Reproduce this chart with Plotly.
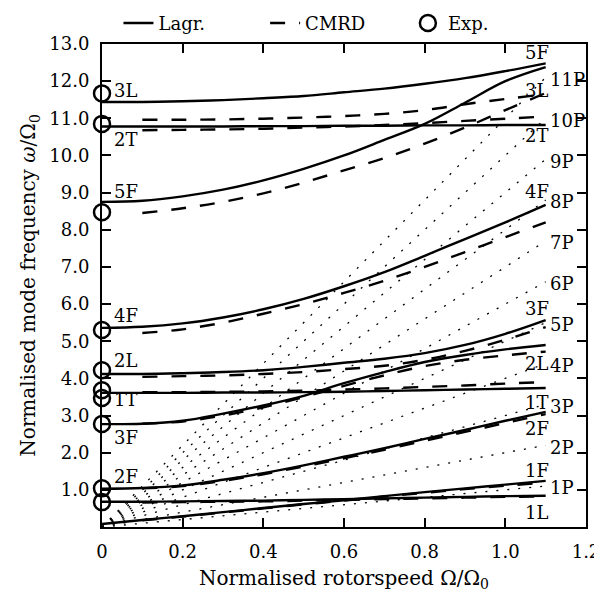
import plotly.graph_objects as go

# ---------------- data ----------------
x_lagr = [0.0, 0.1, 0.2, 0.3, 0.4, 0.5, 0.6, 0.7, 0.8, 0.9, 1.0, 1.1]
x_cmrd = [0.1, 0.2, 0.3, 0.4, 0.5, 0.6, 0.7, 0.8, 0.9, 1.0, 1.1]

lagr_3L = [11.44, 11.44, 11.46, 11.49, 11.54, 11.60, 11.70, 11.80, 11.93, 12.08, 12.27, 12.48]
lagr_2T = [10.78, 10.78, 10.78, 10.78, 10.79, 10.79, 10.80, 10.80, 10.81, 10.81, 10.82, 10.82]
lagr_5F = [8.75, 8.78, 8.90, 9.08, 9.33, 9.64, 10.00, 10.42, 10.85, 11.42, 12.00, 12.38]
lagr_4F = [5.36, 5.39, 5.48, 5.64, 5.86, 6.14, 6.48, 6.86, 7.30, 7.75, 8.20, 8.67]
lagr_2L = [4.12, 4.12, 4.14, 4.17, 4.22, 4.31, 4.42, 4.53, 4.68, 4.90, 5.20, 5.57]
lagr_1T = [3.61, 3.61, 3.61, 3.62, 3.62, 3.63, 3.64, 3.66, 3.68, 3.70, 3.72, 3.74]
lagr_3F = [2.77, 2.78, 2.86, 3.05, 3.27, 3.53, 3.87, 4.17, 4.44, 4.63, 4.78, 4.90]
lagr_2F = [1.03, 1.05, 1.12, 1.27, 1.45, 1.66, 1.89, 2.12, 2.37, 2.61, 2.86, 3.10]
lagr_1L = [0.68, 0.68, 0.69, 0.70, 0.71, 0.73, 0.75, 0.77, 0.79, 0.81, 0.83, 0.84]
lagr_1F = [0.08, 0.19, 0.29, 0.40, 0.51, 0.62, 0.72, 0.83, 0.94, 1.04, 1.14, 1.24]

cmrd_3L = [10.96, 10.96, 10.97, 10.99, 11.02, 11.06, 11.12, 11.22, 11.38, 11.52, 11.65]
cmrd_2T = [10.68, 10.69, 10.70, 10.72, 10.75, 10.78, 10.82, 10.87, 10.93, 10.99, 11.05]
cmrd_5F = [8.45, 8.58, 8.75, 8.98, 9.27, 9.60, 9.93, 10.32, 10.75, 11.22, 11.68]
cmrd_4F = [5.22, 5.32, 5.50, 5.74, 6.00, 6.30, 6.63, 7.00, 7.40, 7.80, 8.20]
cmrd_2L = [4.04, 4.06, 4.08, 4.12, 4.17, 4.25, 4.34, 4.50, 4.74, 5.04, 5.38]
cmrd_1T = [3.63, 3.63, 3.64, 3.65, 3.67, 3.70, 3.73, 3.77, 3.81, 3.86, 3.90]
cmrd_3F = [2.78, 2.84, 3.00, 3.22, 3.50, 3.80, 4.08, 4.33, 4.50, 4.62, 4.72]
cmrd_2F = [1.04, 1.10, 1.24, 1.42, 1.63, 1.85, 2.08, 2.32, 2.56, 2.80, 3.04]
cmrd_1L = [0.66, 0.67, 0.68, 0.69, 0.71, 0.73, 0.75, 0.77, 0.79, 0.81, 0.82]
cmrd_1F = [0.18, 0.28, 0.39, 0.50, 0.61, 0.71, 0.82, 0.92, 1.02, 1.11, 1.20]

exp_x = [0, 0, 0, 0, 0, 0, 0, 0, 0, 0]
exp_y = [11.67, 10.85, 8.47, 5.30, 4.22, 3.68, 3.47, 2.77, 1.04, 0.67]

harmonics = [1, 2, 3, 4, 5, 6, 7, 8, 9, 10, 11]
harm_x = [0.0, 1.1]

left_labels = ["3L", "2T", "5F", "4F", "2L", "1T", "3F", "2F"]
left_label_y = [11.76, 10.42, 9.02, 5.68, 4.47, 3.42, 2.40, 1.35]
right_labels = ["5F", "3L", "2T", "4F", "3F", "2L", "1T", "2F", "1F", "1L"]
right_label_y = [12.76, 11.76, 10.55, 9.02, 5.89, 4.41, 3.36, 2.66, 1.53, 0.38]

x_ticks = [0.0, 0.2, 0.4, 0.6, 0.8, 1.0, 1.2]
x_ticktext = ["0", "0.2", "0.4", "0.6", "0.8", "1.0", "1.2"]
y_ticks = [1, 2, 3, 4, 5, 6, 7, 8, 9, 10, 11, 12, 13]
y_ticktext = ["1.0", "2.0", "3.0", "4.0", "5.0", "6.0", "7.0", "8.0", "9.0", "10.0", "11.0", "12.0", "13.0"]

# ---------------- figure ----------------
FONT = "DejaVu Serif"
fig = go.Figure()

# harmonic (kP) dotted lines
for k in harmonics:
    fig.add_trace(go.Scatter(
        x=harm_x, y=[k * v for v in harm_x], mode="lines",
        line=dict(color="black", width=1.3, dash="2px,9px"),
        showlegend=False, hoverinfo="skip"))

lagr = [lagr_3L, lagr_2T, lagr_5F, lagr_4F, lagr_2L, lagr_1T, lagr_3F, lagr_2F, lagr_1L, lagr_1F]
cmrd = [cmrd_3L, cmrd_2T, cmrd_5F, cmrd_4F, cmrd_2L, cmrd_1T, cmrd_3F, cmrd_2F, cmrd_1L, cmrd_1F]

for i, ys in enumerate(lagr):
    fig.add_trace(go.Scatter(
        x=x_lagr, y=ys, mode="lines", line=dict(color="black", width=2.4, shape="spline"),
        name="Lagr.", legend="legend", showlegend=(i == 0), legendgroup="lagr"))
for i, ys in enumerate(cmrd):
    fig.add_trace(go.Scatter(
        x=x_cmrd, y=ys, mode="lines",
        line=dict(color="black", width=2.4, shape="spline", dash="15px,14px"),
        name="CMRD", legend="legend2", showlegend=(i == 0), legendgroup="cmrd"))

fig.add_trace(go.Scatter(
    x=exp_x, y=exp_y, mode="markers", cliponaxis=False,
    marker=dict(symbol="circle-open", size=16, color="black", line=dict(width=2.5, color="black")),
    name="Exp.", legend="legend3"))

LBL = 18
annotations = []
for t, yv in zip(left_labels, left_label_y):
    annotations.append(dict(x=0.025, y=yv, text=t, showarrow=False, xanchor="left", yanchor="middle",
                            font=dict(family=FONT, size=LBL, color="black")))
for t, yv in zip(right_labels, right_label_y):
    annotations.append(dict(x=1.044, y=yv, text=t, showarrow=False, xanchor="left", yanchor="middle",
                            font=dict(family=FONT, size=LBL, color="black")))
for k in harmonics:
    annotations.append(dict(x=1.105, y=1.1 * k - 0.05, text=f"{k}P", showarrow=False,
                            xanchor="left", yanchor="middle",
                            font=dict(family=FONT, size=LBL, color="black")))

legend_common = dict(orientation="h", yanchor="middle", y=1.043, xanchor="left",
                     bgcolor="rgba(0,0,0,0)", font=dict(family=FONT, size=18, color="black"))

# page body has an 8px default margin, so the figure is sized to fill the 602x592 window
fig.update_layout(
    width=594, height=584,
    margin=dict(l=94, r=16, t=36, b=65, autoexpand=False),
    plot_bgcolor="white", paper_bgcolor="white",
    font=dict(family=FONT, size=18, color="black"),
    annotations=annotations,
    legend=dict(x=0.034, **legend_common),
    legend2=dict(x=0.337, **legend_common),
    legend3=dict(x=0.632, **legend_common),
    xaxis=dict(range=[0, 1.2], tickvals=x_ticks, ticktext=x_ticktext,
               ticks="inside", ticklen=9, tickwidth=1.5, tickcolor="black",
               showline=True, linewidth=2, linecolor="black", mirror="ticks",
               showgrid=False, zeroline=False, ticklabelstandoff=7,
               tickfont=dict(family=FONT, size=18),
               title=dict(text="Normalised rotorspeed Ω/Ω<sub>0</sub>", standoff=12,
                          font=dict(family=FONT, size=20))),
    yaxis=dict(range=[0, 13], tickvals=y_ticks, ticktext=y_ticktext,
               ticks="inside", ticklen=9, tickwidth=1.5, tickcolor="black",
               showline=True, linewidth=2, linecolor="black", mirror="ticks",
               showgrid=False, zeroline=False, ticklabelstandoff=7,
               tickfont=dict(family=FONT, size=18),
               title=dict(text="Normalised mode frequency <i>ω</i>/Ω<sub>0</sub>", standoff=8,
                          font=dict(family=FONT, size=20))),
)

fig.write_html("out.html")
